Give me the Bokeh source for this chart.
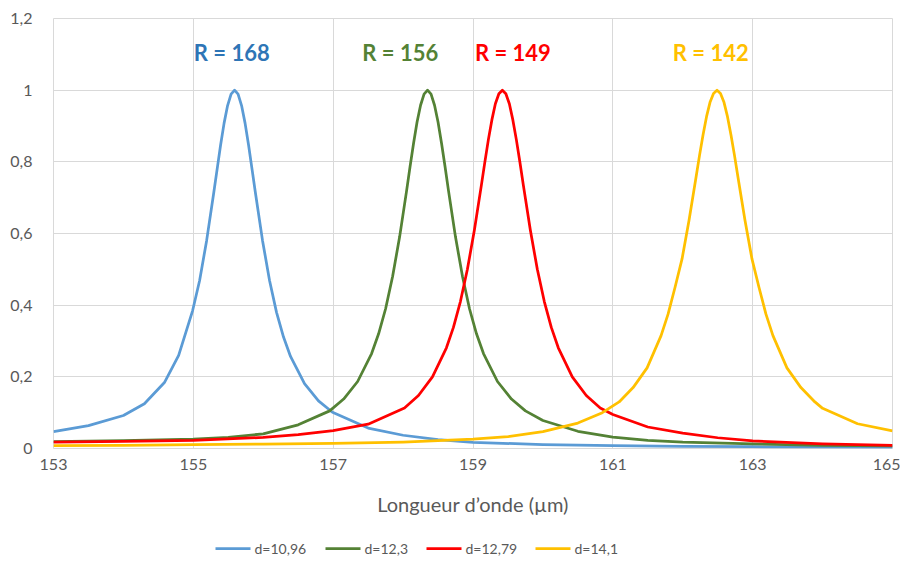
from bokeh.plotting import figure
from bokeh.layouts import column
from bokeh.models import (Range1d, FixedTicker, CustomJSTickFormatter, Label)
from bokeh.core.properties import value
from bokeh.embed import file_html
from bokeh.resources import INLINE

# ---------------- data ----------------
series_names = ["d=10,96", "d=12,3", "d=12,79", "d=14,1"]

blue_x = [153.0, 153.5, 154.0, 154.3, 154.59, 154.79, 154.99, 155.09, 155.19, 155.29, 155.34, 155.39,
          155.44, 155.49, 155.54, 155.59, 155.64, 155.69, 155.74, 155.79, 155.84, 155.89, 155.99,
          156.09, 156.19, 156.29, 156.39, 156.59, 156.79, 156.99, 157.5, 158.0, 158.5, 159.0, 160.0,
          161.0, 162.0, 163.0, 164.0, 165.0]
blue_y = [0.047, 0.064, 0.092, 0.125, 0.185, 0.260, 0.385, 0.469, 0.580, 0.711, 0.779, 0.847,
          0.908, 0.957, 0.989, 1.000, 0.989, 0.957, 0.908, 0.847, 0.779, 0.711, 0.580,
          0.469, 0.380, 0.311, 0.257, 0.181, 0.133, 0.101, 0.057, 0.037, 0.025, 0.017, 0.011,
          0.008, 0.006, 0.005, 0.004, 0.003]

green_x = [153.0, 154.0, 155.0, 155.5, 156.0, 156.5, 156.95, 157.15, 157.35, 157.55, 157.65, 157.75,
           157.85, 157.95, 158.05, 158.1, 158.15, 158.2, 158.25, 158.3, 158.35, 158.4, 158.45, 158.5,
           158.55, 158.6, 158.65, 158.75, 158.85, 158.95, 159.05, 159.15, 159.35, 159.55, 159.75,
           160.0, 160.5, 161.0, 161.5, 162.0, 163.0, 164.0, 165.0]
green_y = [0.019, 0.022, 0.026, 0.031, 0.041, 0.066, 0.105, 0.138, 0.187, 0.265, 0.320, 0.390,
           0.480, 0.590, 0.719, 0.787, 0.852, 0.911, 0.958, 0.989, 1.000, 0.989, 0.958, 0.911,
           0.852, 0.787, 0.719, 0.590, 0.480, 0.390, 0.320, 0.265, 0.187, 0.138, 0.105,
           0.078, 0.048, 0.032, 0.023, 0.018, 0.013, 0.009, 0.007]

red_x = [153.0, 154.0, 155.0, 156.0, 156.5, 157.0, 157.5, 158.02, 158.22, 158.42, 158.62, 158.72,
         158.82, 158.92, 159.02, 159.12, 159.17, 159.22, 159.27, 159.32, 159.37, 159.42, 159.47,
         159.52, 159.57, 159.62, 159.67, 159.72, 159.82, 159.92, 160.02, 160.12, 160.22, 160.42,
         160.62, 160.82, 161.0, 161.5, 162.0, 162.5, 163.0, 164.0, 165.0]
red_y = [0.018, 0.020, 0.023, 0.031, 0.039, 0.050, 0.068, 0.113, 0.148, 0.200, 0.281, 0.338,
         0.410, 0.500, 0.610, 0.735, 0.800, 0.862, 0.917, 0.962, 0.990, 1.000, 0.990,
         0.962, 0.917, 0.862, 0.800, 0.735, 0.610, 0.500, 0.410, 0.338, 0.281, 0.200,
         0.148, 0.113, 0.095, 0.060, 0.043, 0.030, 0.021, 0.013, 0.009]

yellow_x = [153.0, 154.0, 155.0, 156.0, 157.0, 158.0, 158.5, 159.0, 159.5, 160.0, 160.5, 160.85,
            161.09, 161.29, 161.49, 161.69, 161.79, 161.89, 161.99, 162.09, 162.19, 162.24, 162.29,
            162.34, 162.39, 162.44, 162.49, 162.54, 162.59, 162.64, 162.69, 162.74, 162.79, 162.89,
            162.99, 163.09, 163.19, 163.29, 163.49, 163.69, 163.89, 164.0, 164.5, 165.0]
yellow_y = [0.008, 0.009, 0.011, 0.012, 0.014, 0.018, 0.022, 0.026, 0.033, 0.047, 0.071, 0.100,
            0.130, 0.170, 0.225, 0.315, 0.375, 0.450, 0.529, 0.637, 0.757, 0.818, 0.875,
            0.926, 0.966, 0.991, 1.000, 0.991, 0.966, 0.926, 0.875, 0.818, 0.757, 0.637,
            0.529, 0.450, 0.375, 0.315, 0.225, 0.170, 0.130, 0.112, 0.069, 0.049]

x_ticks = [153, 155, 157, 159, 161, 163, 165]
y_ticks = [0, 0.2, 0.4, 0.6, 0.8, 1.0, 1.2]

ann_texts = ["R = 168", "R = 156", "R = 149", "R = 142"]

# ---------------- styling / layout ----------------
colors = ["#5B9BD5", "#548235", "#FF0000", "#FFC000"]
ann_colors = ["#2E75B6", "#548235", "#FF0000", "#FFC000"]
ann_pos_x = [155.55, 157.96, 159.57, 162.4]
ann_pos_y = 1.106
leg_item_left = [215, 325, 426, 535]   # legend layout (page px)
LEG_GLYPH = 35
LEG_GAP = 4
LEG_Y = 24
FONT = "Lato"
GRAY = "#595959"
GRID = "#D9D9D9"
LINE_W = 2.75

p = figure(frame_width=839, frame_height=430, x_range=Range1d(153, 165), y_range=Range1d(0, 1.2),
           output_backend="svg", toolbar_location=None,
           min_border_left=53, min_border_right=8, min_border_top=18, min_border_bottom=84)
p.background_fill_color = "white"
p.border_fill_color = "white"
p.outline_line_color = GRID

p.xaxis.ticker = FixedTicker(ticks=x_ticks)
p.yaxis.ticker = FixedTicker(ticks=y_ticks)
p.yaxis.formatter = CustomJSTickFormatter(code="""
    const s = (Math.round(tick * 10) / 10).toString();
    return s.replace('.', ',');
""")
for ax in (p.xaxis[0], p.yaxis[0]):
    ax.axis_line_color = None
    ax.major_tick_line_color = None
    ax.minor_tick_line_color = None
    ax.major_label_text_font = FONT
    ax.major_label_text_font_size = "16px"
    ax.major_label_text_color = GRAY
p.xaxis.major_label_standoff = 4
p.yaxis.major_label_standoff = 15
p.xaxis.axis_label = "Longueur d\u2019onde (\u00b5m)"
p.xaxis.axis_label_text_font = FONT
p.xaxis.axis_label_text_font_size = "20px"
p.xaxis.axis_label_text_font_style = "normal"
p.xaxis.axis_label_text_color = GRAY
p.xaxis.axis_label_standoff = 19

p.xgrid.grid_line_color = GRID
p.ygrid.grid_line_color = GRID
p.xgrid.grid_line_width = 1
p.ygrid.grid_line_width = 1

xs = [blue_x, green_x, red_x, yellow_x]
ys = [blue_y, green_y, red_y, yellow_y]
for x, y, c in zip(xs, ys, colors):
    p.line(x, y, line_color=c, line_width=LINE_W, line_join="round")

for t, ax_, c in zip(ann_texts, ann_pos_x, ann_colors):
    p.add_layout(Label(x=ax_, y=ann_pos_y, text=t, text_color=c, text_font=FONT,
                       text_font_size="22px", text_font_style="bold",
                       text_align="center", text_baseline="middle"))

# ---------------- legend strip below the chart ----------------
# the strip's frame is aligned with the chart's frame (53..892 px), so use page px as coordinates
lg = figure(width=900, height=40, x_range=Range1d(53, 892), y_range=Range1d(0, 40),
            output_backend="svg", toolbar_location=None,
            x_axis_location=None, y_axis_location=None,
            min_border_left=0, min_border_right=0, min_border_top=0, min_border_bottom=0)
lg.outline_line_color = None
lg.xgrid.visible = False
lg.ygrid.visible = False
lg.background_fill_color = "white"
lg.border_fill_color = "white"
for name, c, x0 in zip(series_names, colors, leg_item_left):
    lg.segment(x0=[x0], y0=[LEG_Y], x1=[x0 + LEG_GLYPH], y1=[LEG_Y], line_color=c, line_width=LINE_W)
    lg.text(x=[x0 + LEG_GLYPH + LEG_GAP], y=[LEG_Y], text=[name], text_font=value(FONT),
            text_font_size="14px", text_color=GRAY, text_baseline="middle", text_align="left")

layout = column(p, lg, spacing=0)
open("out.html", "w").write(file_html(layout, INLINE))
